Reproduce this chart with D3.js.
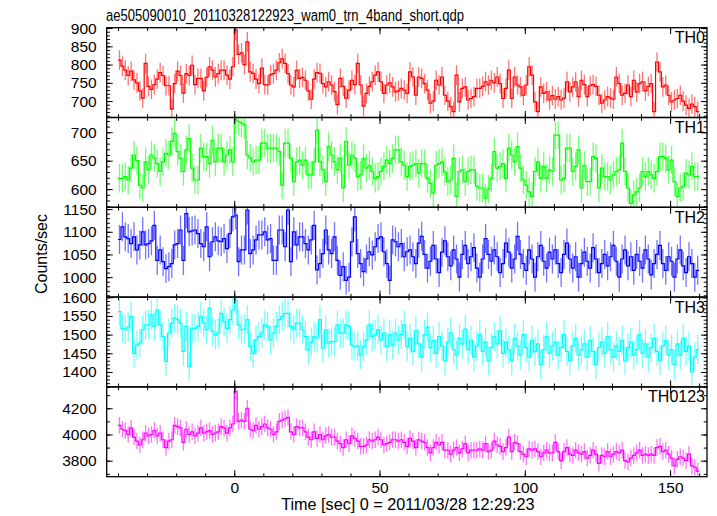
<!DOCTYPE html>
<html><head><meta charset="utf-8">
<script src="https://cdn.jsdelivr.net/npm/d3@7"></script>
<style>body{margin:0;background:#fff}svg{display:block}</style>
</head><body>
<svg id="c" width="717" height="516"></svg>
<script>
const title = "ae505090010_20110328122923_wam0_trn_4band_short.qdp";
const xLabel = "Time [sec] 0 = 2011/03/28 12:29:23";
const yLabel = "Counts/sec";
const binStart = -40;
const binWidth = 1;
const xTicks = [0, 50, 100, 150];
const bands = ["TH0", "TH1", "TH2", "TH3", "TH0123"];
const colors = ["#ff0000", "#00ff00", "#0000ff", "#00ffff", "#ff00ff"];

const th0 = [
812,796,785,770,782,758,750,728,708,803,
740,732,745,760,778,770,742,742,678,748,
782,770,722,775,770,798,745,762,762,728,
765,794,785,766,775,785,785,771,760,794,
895,828,832,800,862,780,776,760,748,790,
745,744,772,775,785,805,816,803,775,744,
739,784,762,765,757,728,705,760,778,776,
748,739,753,744,726,690,762,740,708,730,
757,745,803,744,686,721,740,753,771,780,
753,721,744,750,739,725,728,735,730,721,
780,766,716,766,762,748,730,694,700,757,
744,766,716,700,685,671,771,698,735,739,
703,707,712,735,735,740,753,744,757,750,
766,748,707,735,785,707,766,744,739,716,
744,794,771,698,671,739,721,725,703,715,
705,712,703,708,753,725,739,753,712,757,
745,712,742,745,740,716,694,703,712,708,
705,766,748,716,721,744,712,757,725,748,
753,728,740,748,671,807,780,739,744,716,
698,703,707,716,700,689,680,692,685,671];

const th1 = [
619,619,622,616,637,660,650,607,602,648,
634,660,655,645,631,648,663,660,684,698,
666,654,631,669,689,637,616,616,672,657,
657,645,686,648,672,672,648,660,669,648,
722,719,716,713,660,655,648,651,651,681,
681,672,672,672,672,666,607,681,681,654,
613,648,651,642,651,625,625,648,704,648,
634,613,675,660,648,634,654,602,684,642,
660,655,622,625,654,637,642,631,619,622,
631,640,651,645,654,669,669,648,642,622,
640,642,645,628,645,645,619,610,593,642,
645,648,630,613,616,654,587,631,634,613,
631,634,634,605,602,602,584,600,619,666,
637,640,645,619,672,660,648,675,637,616,
607,595,587,631,648,619,640,619,634,631,
695,695,616,619,672,672,631,640,669,602,
642,613,613,657,654,602,637,622,622,616,
625,631,634,681,631,602,575,590,595,602,
631,622,631,625,619,631,657,657,654,634,
651,613,587,602,605,628,625,640,622,622];

const th2 = [
1083,1111,1089,1085,1074,1089,1060,1071,1100,1071,
1074,1080,1114,1037,1060,1034,1019,1023,1030,1071,
1074,1104,1037,1140,1100,1102,1104,1096,1074,1067,
1111,1045,1078,1089,1080,1078,1085,1063,1096,1133,
1137,1034,1060,1060,1148,1052,1060,1082,1093,1093,
1100,1082,1085,1037,1037,1104,1104,1067,1148,1034,
1100,1071,1089,1089,1074,1060,1082,1114,1016,1030,
1052,1104,1060,1052,1089,1037,1004,1023,993,1000,
1078,1133,1052,1030,1012,1040,1056,1049,1067,1085,
1089,1056,1030,993,1082,1078,1067,1074,1045,1056,
1060,1045,1030,1075,1090,1050,1020,1035,1070,1040,
1010,1055,1080,1045,1025,1060,1040,1000,1050,1070,
1030,1045,1065,1020,1000,1040,1085,1050,1035,1060,
1045,1010,1030,1075,1055,1020,1040,1090,1050,1030,
1015,1060,1040,1000,1045,1070,1035,1020,1055,1040,
1060,1030,1010,1050,1075,1040,1020,1045,1000,1030,
1055,1035,1020,1065,1040,1010,1030,1050,1025,1045,
1070,1035,1000,1040,1060,1025,1045,1015,1050,1035,
1020,1060,1040,1005,1030,1050,1070,1030,1015,1045,
1035,1000,1040,1060,1025,1010,1045,1030,1000,1015];

const th3 = [
1562,1517,1513,1520,1549,1450,1472,1477,1513,1526,
1526,1553,1522,1566,1526,1495,1428,1504,1530,1544,
1540,1531,1455,1522,1415,1517,1517,1522,1549,1531,
1513,1571,1509,1500,1505,1557,1535,1517,1540,1566,
1593,1526,1513,1515,1540,1468,1450,1486,1495,1504,
1526,1522,1486,1504,1522,1540,1549,1557,1557,1522,
1513,1531,1531,1513,1495,1459,1480,1495,1491,1540,
1464,1513,1477,1481,1481,1526,1504,1504,1526,1522,
1472,1468,1470,1446,1468,1486,1526,1495,1500,1513,
1486,1504,1468,1500,1472,1504,1486,1500,1526,1468,
1490,1455,1510,1475,1440,1500,1520,1465,1485,1450,
1495,1470,1430,1480,1505,1460,1445,1490,1475,1515,
1460,1485,1440,1470,1500,1455,1480,1430,1465,1495,
1475,1510,1450,1480,1460,1430,1490,1470,1445,1500,
1465,1440,1485,1455,1475,1420,1460,1495,1450,1470,
1480,1445,1465,1500,1455,1430,1470,1490,1445,1460,
1475,1440,1485,1455,1420,1465,1480,1450,1495,1460,
1440,1470,1455,1485,1430,1465,1480,1445,1460,1500,
1450,1475,1440,1465,1490,1455,1430,1470,1485,1445,
1460,1420,1475,1445,1490,1455,1470,1400,1440,1460];

const th0123 = [
4070,4040,4030,4000,4050,3980,3950,3920,3960,4010,
3990,4000,4030,3990,4010,3960,3900,3950,3960,4070,
4060,4050,3940,4040,4000,4020,3990,4010,4050,4010,
4020,4030,4000,4010,4020,4060,4050,4010,4050,4080,
4330,4100,4110,4100,4200,4040,4030,4070,4040,4060,
4080,4050,4040,4000,4020,4100,4110,4120,4130,4020,
4000,4060,4050,4050,4020,3980,3960,4020,3970,4000,
3960,3990,4000,3980,3980,3950,3930,3900,3960,3930,
3990,3970,3950,3910,3910,3920,3960,3950,3960,3980,
3960,3920,3930,3940,3960,3960,3950,3960,3940,3910,
3970,3950,3900,3960,3950,3940,3900,3860,3900,3940,
3920,3940,3880,3880,3850,3880,3900,3860,3890,3930,
3860,3880,3880,3880,3890,3880,3930,3870,3880,3950,
3920,3910,3870,3900,3980,3870,3940,3930,3870,3850,
3830,3890,3880,3890,3870,3830,3860,3880,3860,3860,
3940,3870,3800,3870,3900,3850,3840,3880,3860,3850,
3870,3820,3840,3880,3850,3780,3840,3830,3870,3830,
3850,3870,3860,3880,3800,3790,3820,3840,3860,3880,
3840,3850,3840,3850,3840,3900,3910,3870,3880,3850,
3820,3760,3810,3830,3820,3800,3850,3760,3750,3720];

const series = [th0, th1, th2, th3, th0123];
const errors = [27, 25, 32, 39, 63];
const yDomains = [[655, 901], [568, 726], [956, 1154], [1360, 1600.5], [3678, 4363]];
const yTicks = [[700,750,800,850,900],[600,650,700],[1000,1050,1100,1150],[1400,1450,1500,1550,1600],[3800,4000,4200]];
const yMinorStep = [10, 10, 10, 10, 100];

const svg = d3.select("#c");
const FONT = "'Liberation Sans', Arial, Helvetica, sans-serif";
const L = 106.7, R = 707, T = 27.7, B = 476.7;
const n = bands.length;
const ph = (B - T) / n;

const x = d3.scaleLinear().domain([-43.9, 162.7]).range([L, R]);
const xMinor = d3.range(-40, 161, 10);

svg.append("text").attr("x", 106).attr("y", 21).attr("font-family", FONT)
  .attr("font-size", 17).attr("textLength", 358).attr("lengthAdjust", "spacingAndGlyphs")
  .text(title);

bands.forEach((name, k) => {
  const top = T + k * ph, bot = top + ph;
  const y = d3.scaleLinear().domain(yDomains[k]).range([bot, top]);
  const g = svg.append("g");
  const cid = "clip" + k;
  svg.append("clipPath").attr("id", cid).append("rect")
    .attr("x", L).attr("y", top).attr("width", R - L).attr("height", ph);
  const data = series[k].map((v, i) => ({t0: binStart + i * binWidth, t1: binStart + (i + 1) * binWidth, v}));
  const pl = g.append("g").attr("clip-path", `url(#${cid})`);
  pl.selectAll("line.err").data(data).join("line").attr("class", "err")
    .attr("x1", d => x((d.t0 + d.t1) / 2)).attr("x2", d => x((d.t0 + d.t1) / 2))
    .attr("y1", d => y(d.v - errors[k])).attr("y2", d => y(d.v + errors[k]))
    .attr("stroke", colors[k]).attr("stroke-width", 1.3).attr("stroke-opacity", 0.55);
  const pts = [];
  data.forEach(d => { pts.push([d.t0, d.v]); pts.push([d.t1, d.v]); });
  pl.append("path").attr("d", d3.line().x(p => x(p[0])).y(p => y(p[1]))(pts))
    .attr("fill", "none").attr("stroke", colors[k]).attr("stroke-width", 1.2);

  const [d0, d1] = yDomains[k];
  const minor = d3.range(Math.ceil(d0 / yMinorStep[k]) * yMinorStep[k], d1 + 0.001, yMinorStep[k]);
  const styleAxis = sel => {
    sel.select(".domain").remove();
    sel.selectAll("line").attr("stroke", "#000").attr("stroke-width", 1);
    sel.selectAll("text").attr("font-family", FONT).attr("font-size", 15.5).attr("fill", "#000");
  };
  g.append("g").attr("transform", `translate(${L},0)`)
    .call(d3.axisLeft(y).tickValues(minor).tickSize(-3.3).tickFormat("")).call(styleAxis);
  g.append("g").attr("transform", `translate(${L},0)`)
    .call(d3.axisLeft(y).tickValues(yTicks[k]).tickSize(-6).tickPadding(10).tickFormat(d3.format("d"))).call(styleAxis);
  g.append("g").attr("transform", `translate(${R},0)`)
    .call(d3.axisRight(y).tickValues(minor).tickSize(-3.3).tickFormat("")).call(styleAxis);
  g.append("g").attr("transform", `translate(${R},0)`)
    .call(d3.axisRight(y).tickValues(yTicks[k]).tickSize(-6).tickFormat("")).call(styleAxis);
  g.append("g").attr("transform", `translate(0,${bot})`)
    .call(d3.axisBottom(x).tickValues(xMinor).tickSize(-3.3).tickFormat("")).call(styleAxis);
  g.append("g").attr("transform", `translate(0,${top})`)
    .call(d3.axisTop(x).tickValues(xMinor).tickSize(-3.3).tickFormat("")).call(styleAxis);
  g.append("g").attr("transform", `translate(0,${top})`)
    .call(d3.axisTop(x).tickValues(xTicks).tickSize(-6.5).tickFormat("")).call(styleAxis);
  g.append("g").attr("transform", `translate(0,${bot})`)
    .call(d3.axisBottom(x).tickValues(xTicks).tickSize(-6.5).tickPadding(5)
      .tickFormat(k === n - 1 ? d3.format("d") : "")).call(styleAxis);
  g.append("rect").attr("x", L).attr("y", top).attr("width", R - L).attr("height", ph)
    .attr("fill", "none").attr("stroke", "#000").attr("stroke-width", 1.3);
  g.append("text").attr("x", R - 2).attr("y", top + 15.5).attr("text-anchor", "end")
    .attr("font-family", FONT).attr("font-size", 16).text(name);
});

svg.append("text").attr("x", (L + R) / 2 + 1).attr("y", 510).attr("text-anchor", "middle")
  .attr("font-family", FONT).attr("font-size", 16.2).text(xLabel);
svg.append("text").attr("transform", "translate(47,254) rotate(-90)").attr("text-anchor", "middle")
  .attr("font-family", FONT).attr("font-size", 16).text(yLabel);
</script>
</body></html>
